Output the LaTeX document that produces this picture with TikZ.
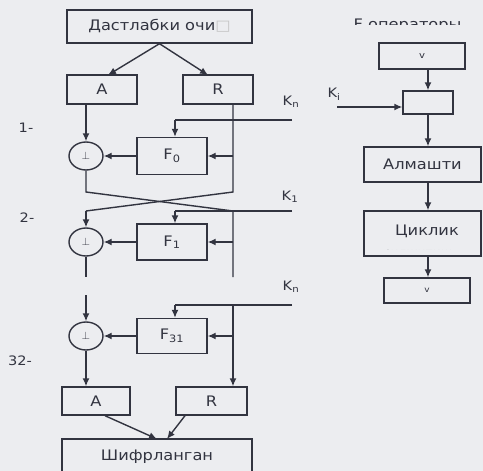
\documentclass[tikz,border=0pt]{standalone}
\usepackage{fontspec}
\setmainfont{DejaVu Sans}[FakeStretch=1.12]
\usetikzlibrary{arrows.meta,shapes.geometric}
\definecolor{ink}{RGB}{50,52,64}
\definecolor{paper}{RGB}{236,237,240}
\begin{document}
\begin{tikzpicture}[x=1pt,y=-1pt,
  line width=1.4pt,
  blk/.style={draw=ink, rectangle, inner sep=0pt, text=ink, line width=1.4pt,
              font=\fontsize{14.5}{16}\selectfont},
  xor/.style={draw=ink, ellipse, minimum width=34pt, minimum height=28pt,
              inner sep=0pt, text=ink, line width=1.4pt},
  arr/.style={draw=ink, line width=1.4pt, -{Latex[length=8pt,width=7pt]}},
  wire/.style={draw=ink, line width=1.4pt},
  lbl/.style={text=ink, inner sep=0pt, font=\fontsize{13}{15}\selectfont}
]
\fill[paper] (0,0) rectangle (483,471);
\useasboundingbox (0,0) rectangle (483,471);

% columns
\coordinate (cL) at (86,0);
\coordinate (cK) at (175,0);
\coordinate (cR) at (233,0);
\coordinate (cE) at (428,0);

% ---------- left: rounds ----------
\node[blk, minimum width=185pt, minimum height=33pt] (top) at (159.5,26.5)
  {Дастлабки очи\textcolor{gray!45}{□}};
\node[blk, minimum width=70pt, minimum height=29pt] (A1) at (102,89.5) {A};
\node[blk, minimum width=70pt, minimum height=29pt] (R1) at (218,89.5) {R};
\coordinate (tA) at (108,75);
\coordinate (tR) at (208,75);
\draw[arr] (top.south) -- (tA);
\draw[arr] (top.south) -- (tR);

% round 1
\node[xor] (X1) at (86,156) {\raisebox{-4pt}{\fontsize{11}{11}\selectfont$\perp$}};
\node[blk, minimum width=70pt, minimum height=37pt] (F0) at (172,156) {F\textsubscript{0}};
\draw[arr] (A1.south -| cL) -- (X1.north);
\coordinate (k0) at (292,120);
\draw[wire] (k0) -- (k0 -| cK);
\draw[arr] (k0 -| cK) -- (F0.north -| cK);
\draw[arr] (F0.east -| cR) -- (F0.east);
\draw[arr] (F0.west) -- (X1.east);
\node[lbl] (n1) at (26,128) {1-};
\node[lbl] (kl0) at (291,102) {K\textsubscript{n}};

% crossing between rounds
\coordinate (c1L) at (86,192);
\coordinate (c1R) at (233,192);
\coordinate (d1L) at (86,211);
\coordinate (d1R) at (233,211);
\coordinate (e1R) at (233,277);
\draw[wire] (R1.south -| cR) -- (c1R) -- (d1L);
\draw[wire] (X1.south) -- (c1L) -- (d1R) -- (e1R);

% round 2
\node[xor] (X2) at (86,242) {\raisebox{-4pt}{\fontsize{11}{11}\selectfont$\perp$}};
\node[blk, minimum width=70pt, minimum height=36pt] (F1) at (172,242) {F\textsubscript{1}};
\draw[arr] (d1L) -- (X2.north);
\coordinate (k1) at (292,211);
\draw[wire] (k1) -- (k1 -| cK);
\draw[arr] (k1 -| cK) -- (F1.north -| cK);
\draw[arr] (F1.east -| cR) -- (F1.east);
\draw[arr] (F1.west) -- (X2.east);
\coordinate (e1L) at (86,277);
\draw[wire] (X2.south) -- (e1L);
\node[lbl] (n2) at (27,218) {2-};
\node[lbl] (kl1) at (290,197) {K\textsubscript{1}};

% round 32
\coordinate (s3) at (86,295);
\node[xor] (X3) at (86,336) {\raisebox{-4pt}{\fontsize{11}{11}\selectfont$\perp$}};
\node[blk, minimum width=70pt, minimum height=35pt] (F31) at (172,336) {F\textsubscript{31}};
\draw[arr] (s3) -- (X3.north);
\coordinate (k2) at (292,305);
\draw[wire] (k2) -- (k2 -| cK);
\draw[arr] (k2 -| cK) -- (F31.north -| cK);
\draw[arr] (F31.east -| cR) -- (F31.east);
\draw[arr] (F31.west) -- (X3.east);
\node[lbl] (n32) at (20,361) {32-};
\node[lbl] (kl2) at (291,287) {K\textsubscript{n}};

% output halves
\node[blk, minimum width=68pt, minimum height=28pt] (A2) at (96,401) {A};
\node[blk, minimum width=71pt, minimum height=28pt] (R2) at (211.5,401) {R};
\draw[arr] (X3.south) -- (A2.north -| cL);
\draw[arr] (k2 -| cR) -- (R2.north -| cR);
\node[blk, minimum width=190pt, minimum height=36pt] (C) at (157,457) {Шифрланган};
\coordinate (oA) at (105,0);
\coordinate (oR) at (185,0);
\coordinate (iA) at (157,439);
\coordinate (iR) at (167,439);
\draw[arr] (A2.south -| oA) -- (iA);
\draw[arr] (R2.south -| oR) -- (iR);

% ---------- right: F operator ----------
\begin{scope}
  \clip (340,0) rectangle (483,24.5);
  \node[lbl, anchor=base west, font=\fontsize{14.5}{16}\selectfont] (ttl) at (353,29.5) {F операторы};
\end{scope}
\node[blk, minimum width=86pt, minimum height=26pt] (V) at (422,56)
  {\raisebox{-3pt}{\fontsize{9}{9}\selectfont v}};
\node[blk, minimum width=50pt, minimum height=23pt] (S) at (428,102.5) {};
\draw[arr] (V.south -| cE) -- (S.north);
\coordinate (ki) at (337,107);
\draw[arr] (ki) -- (S.west |- ki);
\node[lbl] (kli) at (334,94) {K\textsubscript{i}};
\node[blk, minimum width=117pt, minimum height=35pt] (AL) at (422.5,164.5) {Алмашти};
\draw[arr] (S.south -| cE) -- (AL.north -| cE);
\node[blk, minimum width=117pt, minimum height=45pt] (CY) at (422.5,233.5) {};
\node[lbl, font=\fontsize{14.5}{16}\selectfont] (cyt) at (427,231) {Циклик};
\begin{scope}
  \clip (370,246) rectangle (478,249.5);
  \node[lbl, anchor=base, font=\fontsize{11}{13}\selectfont] (cy2) at (418,256) {силжитиш};
\end{scope}
\draw[arr] (AL.south -| cE) -- (CY.north -| cE);
\node[blk, minimum width=86pt, minimum height=25pt] (B3) at (427,290.5)
  {\fontsize{8}{8}\selectfont v};
\draw[arr] (CY.south -| cE) -- (B3.north -| cE);
\end{tikzpicture}
\end{document}
